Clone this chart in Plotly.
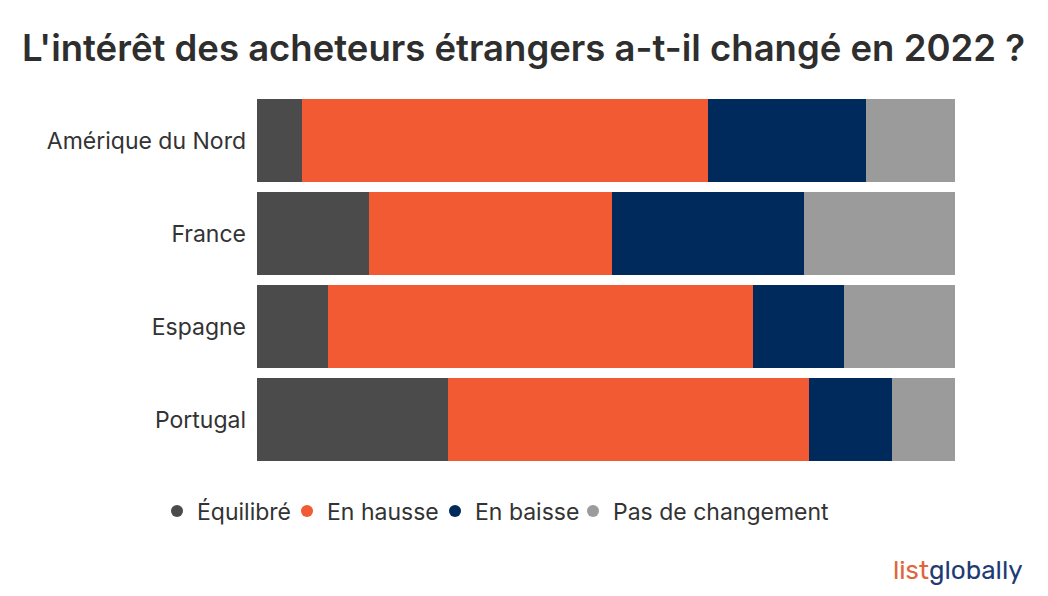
import plotly.graph_objects as go

categories = ["Amérique du Nord", "France", "Espagne", "Portugal"]
series_names = ["Équilibré", "En hausse", "En baisse", "Pas de changement"]
equilibre = [6.4, 16.0, 10.2, 27.4]
en_hausse = [58.2, 34.8, 60.9, 51.7]
en_baisse = [22.6, 27.5, 13.0, 11.9]
pas_de_changement = [12.8, 21.7, 15.9, 9.0]
colors = ["#4b4b4b", "#f15a32", "#002a5c", "#9b9b9b"]

values = [equilibre, en_hausse, en_baisse, pas_de_changement]

font_family = "Inter, Rubik, Roboto, sans-serif"
L, R, T, B = 249, 101, 86, 138
PW, PH = 1048 - L - R, 596 - T - B


def px_x(x):
    return (x - L) / PW


def px_y(y):
    return (596 - B - y) / PH


legend_ids = ["legend", "legend2", "legend3", "legend4"]
legend_left_px = [149, 279, 427, 565]

fig = go.Figure()
for name, vals, col in zip(series_names, values, colors):
    fig.add_trace(go.Bar(y=categories, x=vals, orientation="h", name=name,
                         marker=dict(color=col, line=dict(width=0)),
                         showlegend=False))
for name, col, lid in zip(series_names, colors, legend_ids):
    fig.add_trace(go.Scatter(x=[None], y=[None], mode="markers", name=name,
                             legend=lid,
                             marker=dict(color=col, size=17, symbol="circle")))

legend_common = dict(orientation="h", xanchor="left", y=px_y(503), yanchor="middle",
                     font=dict(size=23, color="#333333"), itemsizing="constant",
                     itemwidth=30, bgcolor="rgba(0,0,0,0)")
legends = {}
for lid, lx in zip(legend_ids, legend_left_px):
    legends[lid] = dict(legend_common, x=px_x(lx))

fig.update_layout(
    width=1048, height=596,
    paper_bgcolor="white", plot_bgcolor="white",
    barmode="stack", bargap=0.1,
    margin=dict(l=L, r=R, t=T, b=B),
    font=dict(family=font_family, color="#333333"),
    title=dict(text="L'intérêt des acheteurs étrangers a-t-il changé en 2022 ?",
               x=515.5 / 1048, xanchor="center", y=1 - 40 / 596, yanchor="middle",
               font=dict(size=36.5, color="#2e2e2e", family=font_family, weight=600)),
    xaxis=dict(range=[0, 100], showgrid=False, zeroline=False, showticklabels=False,
               fixedrange=True),
    yaxis=dict(autorange="reversed", showgrid=False, zeroline=False,
               tickfont=dict(size=23, color="#333333"), ticks="", ticklabelstandoff=10),
    annotations=[dict(
        text="<span style='color:#e0643c'>list</span><span style='color:#1f3b73'>globally</span>",
        xref="paper", yref="paper", x=px_x(1017), y=px_y(562),
        xanchor="right", yanchor="middle", showarrow=False,
        font=dict(size=26, family="Rubik, Inter, sans-serif"))],
    **legends,
)

fig.write_html("out.html")
